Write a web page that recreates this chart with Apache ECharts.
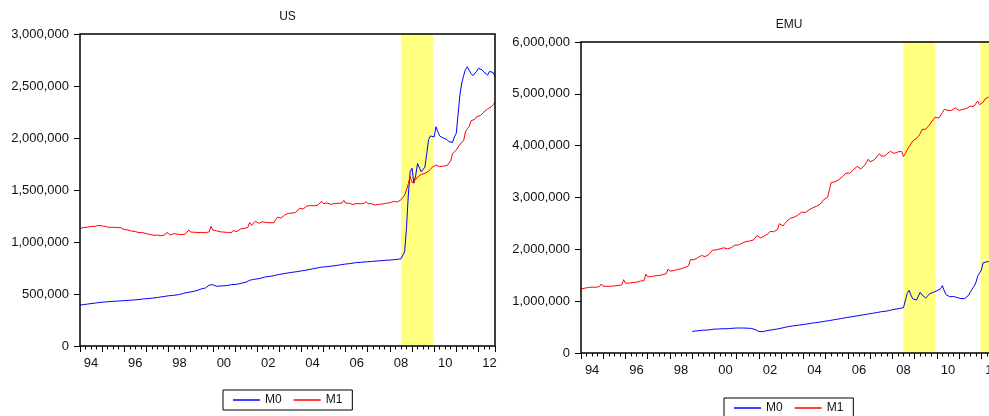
<!DOCTYPE html>
<html>
<head>
<meta charset="utf-8">
<script src="https://cdn.jsdelivr.net/npm/echarts@6/dist/echarts.min.js"></script>
<style>
  body { margin: 0; background: #fff; }
  #chart { width: 989px; height: 416px; }
</style>
</head>
<body>
<div id="chart"></div>
<script>
// monthly data, thousands; US series start Jan 1994, EMU M1 Jan 1994, EMU M0 Jan 1999
var usStart = 1994;
var emuM1Start = 1994;
var emuM0Start = 1999;
var xEnd = 2012.75;

var usM0 = [
  394, 396, 398, 401, 403, 406, 408, 410, 412, 414, 417, 420,
  421, 422, 424, 425, 427, 428, 430, 430, 431, 432, 434, 437,
  436, 437, 439, 440, 441, 442, 444, 445, 447, 449, 452, 456,
  455, 456, 458, 460, 462, 464, 466, 468, 472, 474, 477, 482,
  483, 484, 486, 488, 490, 493, 496, 500, 505, 510, 514, 518,
  520, 523, 527, 532, 538, 545, 550, 554, 558, 568, 585, 602,
  590, 576, 574, 575, 577, 578, 579, 580, 582, 585, 590, 594,
  592, 594, 597, 601, 606, 610, 614, 618, 632, 638, 640, 642,
  645, 648, 652, 657, 662, 665, 668, 670, 672, 676, 680, 685,
  688, 690, 694, 697, 700, 703, 706, 708, 711, 713, 716, 720,
  722, 725, 727, 730, 734, 737, 741, 744, 748, 752, 756, 760,
  760, 761, 763, 765, 768, 770, 772, 774, 777, 780, 783, 786,
  788, 790, 792, 795, 797, 800, 802, 803, 804, 806, 808, 810,
  810, 811, 813, 814, 816, 818, 819, 820, 821, 823, 825, 827,
  826, 828, 830, 832, 833, 835, 838, 843, 905, 1130, 1450, 1675,
  1710, 1565, 1640, 1755, 1770, 1675, 1690, 1720, 1850, 1985, 2020, 2005,
  2010, 2108, 2060, 2020, 2010, 2000, 1995, 1985, 1965, 1955, 1958, 2010,
  2045, 2230, 2420, 2530, 2600, 2660, 2685, 2650, 2620, 2600, 2610, 2640,
  2670, 2688, 2655, 2635, 2620, 2605, 2640, 2655, 2630, 2590
];

var usM1 = [
  1130, 1128, 1140, 1145, 1142, 1148, 1150, 1152, 1150, 1155, 1160, 1178,
  1155, 1142, 1148, 1150, 1140, 1145, 1142, 1140, 1138, 1135, 1138, 1155,
  1120, 1110, 1115, 1112, 1105, 1110, 1100, 1095, 1090, 1092, 1090, 1105,
  1080, 1070, 1072, 1078, 1065, 1068, 1066, 1062, 1060, 1064, 1068, 1092,
  1075, 1068, 1072, 1080, 1070, 1075, 1072, 1070, 1074, 1076, 1080, 1115,
  1095, 1088, 1094, 1100, 1090, 1094, 1092, 1090, 1088, 1090, 1098, 1150,
  1115, 1100, 1108, 1112, 1098, 1102, 1095, 1090, 1092, 1085, 1088, 1110,
  1098, 1100, 1115, 1125, 1118, 1130, 1135, 1140, 1188, 1160, 1165, 1200,
  1185, 1180, 1190, 1195, 1180, 1188, 1192, 1185, 1180, 1185, 1195, 1238,
  1225, 1230, 1245, 1260, 1268, 1275, 1280, 1278, 1282, 1285, 1290, 1325,
  1310, 1318, 1335, 1345, 1340, 1350, 1352, 1348, 1350, 1355, 1360, 1392,
  1370, 1365, 1375, 1370, 1362, 1375, 1370, 1365, 1372, 1368, 1375, 1400,
  1375, 1365, 1372, 1368, 1360, 1375, 1370, 1362, 1368, 1360, 1370, 1390,
  1370, 1360, 1368, 1372, 1355, 1365, 1362, 1358, 1365, 1360, 1372, 1385,
  1378, 1375, 1390, 1395, 1385, 1400, 1405, 1398, 1450, 1500, 1560, 1630,
  1570, 1560, 1600, 1625, 1640, 1650, 1655, 1660, 1665, 1680, 1690, 1720,
  1705, 1740, 1728, 1725, 1722, 1730, 1728, 1735, 1745, 1780, 1850, 1865,
  1885, 1900, 1940, 1955, 1975, 2060, 2090, 2110, 2165, 2165, 2180, 2205,
  2220, 2215, 2230, 2250, 2265, 2280, 2270, 2300, 2320, 2345
];

var emuM0 = [
  417, 420, 425, 430, 432, 435, 440, 438, 442, 445, 450, 460,
  462, 460, 462, 465, 468, 466, 468, 470, 470, 472, 478, 494,
  482, 480, 482, 484, 482, 480, 478, 478, 474, 465, 450, 482,
  415, 405, 412, 420, 428, 435, 442, 448, 452, 458, 463, 475,
  478, 485, 495, 505, 510, 515, 520, 525, 530, 535, 540, 548,
  550, 555, 560, 568, 572, 578, 582, 588, 592, 598, 602, 612,
  615, 620, 625, 632, 638, 645, 650, 655, 662, 670, 675, 685,
  688, 692, 698, 705, 710, 718, 722, 728, 735, 740, 745, 758,
  760, 765, 770, 775, 782, 790, 796, 800, 805, 810, 815, 830,
  835, 840, 848, 855, 860, 868, 875, 900, 1150, 1210, 1120, 1045,
  1040, 1020, 1000, 1170, 1120, 1090, 1060, 1040, 1140, 1150, 1170, 1200,
  1200, 1210, 1240, 1300, 1200, 1125, 1100, 1085, 1073, 1090, 1100, 1070,
  1047, 1050, 1055, 1050, 1070, 1110, 1170, 1230, 1285, 1350, 1480, 1470,
  1600, 1740, 1750, 1760, 1765
];

var emuM1 = [
  1235, 1240, 1250, 1255, 1265, 1260, 1270, 1265, 1268, 1275, 1282, 1330,
  1290, 1280, 1285, 1292, 1288, 1300, 1295, 1290, 1300, 1305, 1315, 1414,
  1345, 1340, 1350, 1355, 1360, 1370, 1365, 1372, 1388, 1380, 1395, 1524,
  1470, 1465, 1475, 1485, 1490, 1500, 1495, 1505, 1510, 1515, 1530, 1620,
  1580, 1575, 1590, 1600, 1610, 1630, 1625, 1640, 1650, 1665, 1680, 1800,
  1790, 1800, 1820, 1840, 1860, 1880, 1870, 1860, 1880, 1900, 1920, 1985,
  1980, 1990, 2000, 2010, 2020, 2030, 2020, 2010, 2015, 2030, 2045, 2080,
  2070, 2085, 2100, 2120, 2140, 2150, 2185, 2160, 2130, 2180, 2200, 2265,
  2235, 2220, 2240, 2260, 2280, 2300, 2345, 2330, 2340, 2360, 2380, 2495,
  2460, 2450, 2500, 2540, 2560, 2600, 2610, 2620, 2640, 2660, 2690, 2720,
  2700, 2710, 2740, 2760, 2780, 2800, 2820, 2830, 2850, 2870, 2900, 2960,
  2980, 3000, 3020, 3290, 3310, 3300, 3330, 3340, 3370, 3400, 3430, 3470,
  3450, 3470, 3500, 3540, 3560, 3600, 3580, 3550, 3570, 3620, 3680, 3740,
  3690, 3700, 3720, 3760, 3790, 3845, 3800, 3770, 3800, 3840, 3860, 3890,
  3860, 3850, 3870, 3880, 3870, 3890, 3790, 3850, 3920, 3980, 4030, 4090,
  4120, 4140, 4180, 4230, 4310, 4300, 4320, 4340, 4400, 4450, 4500, 4550,
  4540, 4530, 4560, 4640, 4700, 4690, 4680, 4660, 4680, 4710, 4730, 4720,
  4680, 4670, 4700, 4730, 4720, 4750, 4760, 4740, 4760, 4780, 4860, 4790,
  4800, 4840, 4900, 4920, 4940
];

// shaded periods (fractional years)
var usShade = [[2008.5, 2009.96]];
var emuShade = [[2008.5, 2009.94], [2011.96, 2012.75]];

var usYTicks = [0, 3000000, 500000];
var emuYTicks = [0, 6000000, 1000000];

function toPoints(arr, start) {
  return arr.map(function (v, i) { return [start + i / 12, v * 1000]; });
}

function shadeArea(ranges) {
  return {
    silent: true,
    itemStyle: { color: '#ffff80' },
    data: ranges.map(function (r) { return [{ xAxis: r[0] }, { xAxis: r[1] }]; })
  };
}

var font = 'Liberation Sans';
var ink = '#111';

function tickAxis(grid) {
  return {
    gridIndex: grid, type: 'value', position: 'bottom',
    min: 1994, max: xEnd, interval: 1,
    axisLine: { show: false },
    axisTick: { length: 6, lineStyle: { color: '#000', width: 1 } },
    minorTick: { show: true, splitNumber: 4, length: 3.5, lineStyle: { color: '#000', width: 1 } },
    axisLabel: { show: false },
    splitLine: { show: false }, minorSplitLine: { show: false }
  };
}

function labelAxis(grid) {
  return {
    gridIndex: grid, type: 'value', position: 'bottom',
    min: 1994, max: xEnd, interval: 0.5,
    axisLine: { show: false }, axisTick: { show: false },
    splitLine: { show: false },
    axisLabel: {
      margin: 11, fontSize: 13, color: ink, fontFamily: font,
      showMinLabel: true, showMaxLabel: true,
      formatter: function (v) {
        var y = Math.floor(v + 1e-6);
        if (Math.abs(v - y - 0.5) > 1e-6 || y % 2 !== 0) return '';
        return String(y % 100).padStart(2, '0');
      }
    }
  };
}

function yAxis(grid, t) {
  return {
    gridIndex: grid, type: 'value', min: t[0], max: t[1], interval: t[2],
    axisLine: { show: false },
    axisTick: { show: true, length: 6, lineStyle: { color: '#000' } },
    splitLine: { show: false },
    axisLabel: {
      margin: 11, fontSize: 13, color: ink, fontFamily: font,
      formatter: function (v) { return v.toLocaleString('en-US'); }
    }
  };
}

function line(name, color, data, x, y, shade) {
  var s = {
    name: name, type: 'line', xAxisIndex: x, yAxisIndex: y,
    data: data, showSymbol: false, symbol: 'none',
    lineStyle: { color: color, width: 1 }, itemStyle: { color: color },
    z: 2
  };
  if (shade) s.markArea = shadeArea(shade);
  return s;
}

function legend(left, top) {
  return {
    data: ['M0', 'M1'], left: left, top: top, orient: 'horizontal',
    icon: 'rect', itemWidth: 27, itemHeight: 1.5, itemGap: 12,
    borderColor: '#000', borderWidth: 1, padding: [4, 10, 4, 10],
    selectedMode: false,
    textStyle: { fontSize: 12, color: ink, fontFamily: font }
  };
}

var chart = echarts.init(document.getElementById('chart'));
chart.setOption({
  animation: false,
  backgroundColor: '#fff',
  textStyle: { fontFamily: font },
  graphic: [
    { type: 'text', x: 287.5, y: 17, style: { text: 'US', textAlign: 'center', textVerticalAlign: 'middle', font: '12px "Liberation Sans"', fill: ink } },
    { type: 'text', x: 789, y: 25, style: { text: 'EMU', textAlign: 'center', textVerticalAlign: 'middle', font: '12px "Liberation Sans"', fill: ink } }
  ],
  grid: [
    { left: 80, top: 34, width: 415, height: 312, outerBoundsMode: 'none', show: true, backgroundColor: 'transparent', borderColor: '#000', borderWidth: 1.5, z: 10 },
    { left: 581, top: 42, width: 417, height: 311, outerBoundsMode: 'none', show: true, backgroundColor: 'transparent', borderColor: '#000', borderWidth: 1.5, z: 10 }
  ],
  xAxis: [tickAxis(0), labelAxis(0), tickAxis(1), labelAxis(1)],
  yAxis: [yAxis(0, usYTicks), yAxis(1, emuYTicks)],
  legend: [legend(223, 390), legend(724, 398)],
  series: [
    line('M0', '#0000ff', toPoints(usM0, usStart), 0, 0, usShade),
    line('M1', '#ff0000', toPoints(usM1, usStart), 0, 0),
    line('M0', '#0000ff', toPoints(emuM0, emuM0Start), 2, 1, emuShade),
    line('M1', '#ff0000', toPoints(emuM1, emuM1Start), 2, 1)
  ]
});
</script>
</body>
</html>
